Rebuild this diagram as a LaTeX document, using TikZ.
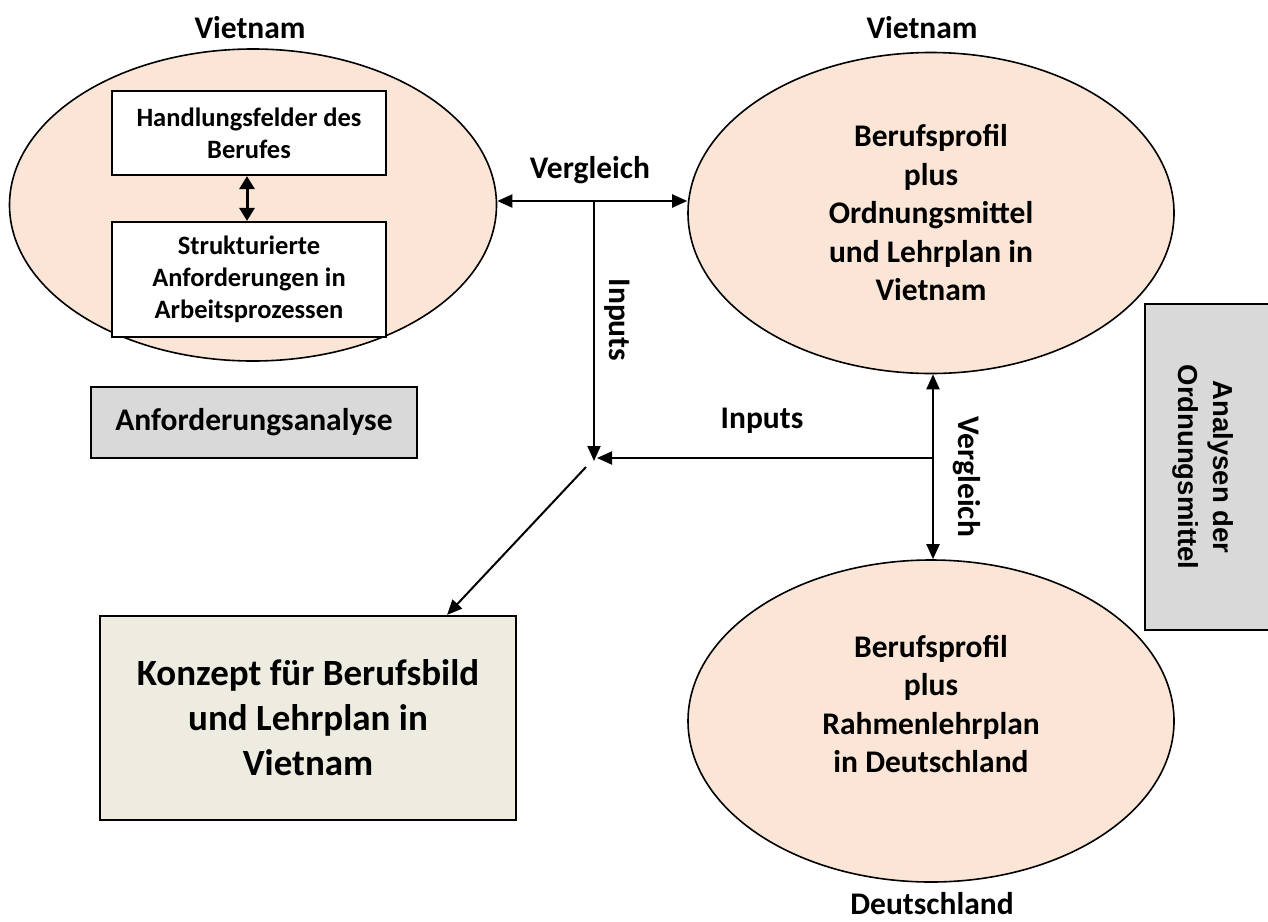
\documentclass[tikz,border=0pt]{standalone}
\usepackage{fontspec}
\setmainfont{Carlito}
\newfontfamily\arialfont{Liberation Sans}
\usetikzlibrary{arrows.meta,shapes.geometric}

\definecolor{peach}{HTML}{FBE5D6}
\definecolor{greyfill}{HTML}{D9D9D9}
\definecolor{tanfill}{HTML}{EEECE1}

\begin{document}
\begin{tikzpicture}[x=1pt,y=-1pt,
  oval/.style={ellipse, draw, line width=1.6pt, fill=peach, inner sep=0pt,
    minimum width=486pt, align=center,
    font=\fontsize{31.5}{38.5}\selectfont\bfseries},
  innerbox/.style={draw, line width=2.2pt, fill=white, inner sep=0pt,
    minimum width=274pt, align=center,
    font=\fontsize{26.5}{32}\selectfont\bfseries},
  greybox/.style={draw, line width=2.2pt, fill=greyfill, inner sep=0pt},
  conceptbox/.style={draw, line width=2.2pt, fill=tanfill, inner sep=0pt,
    minimum width=416pt, minimum height=204pt, align=center,
    font=\fontsize{37}{45}\selectfont\bfseries},
  caption/.style={inner sep=0pt, font=\fontsize{31.5}{38.5}\selectfont\bfseries},
  link/.style={line width=2pt, -{Triangle[length=15pt,width=13pt]}},
  twoway/.style={line width=2pt, {Triangle[length=15pt,width=13pt]}-{Triangle[length=15pt,width=13pt]}},
]
\useasboundingbox (0,0) rectangle (1268,921);

% country captions
\node[caption, anchor=base] (capL) at (250,38) {Vietnam};
\node[caption, anchor=base] (capR) at (922,38) {Vietnam};
\node[caption, anchor=base] (capD) at (932,914) {Deutschland};

% left oval with the two inner boxes
\node[oval, minimum width=487pt, minimum height=312pt] (req) at (253,205) {};
\node[innerbox, minimum height=84pt] (fields) at (249,133)
  {Handlungsfelder des\\Berufes};
\node[innerbox, minimum height=115pt] (struct) at (249,279.5)
  {Strukturierte\\Anforderungen in\\Arbeitsprozessen};
\draw[line width=3pt, {Triangle[length=13pt,width=15pt]}-{Triangle[length=13pt,width=15pt]}]
  ([xshift=-2pt]fields.south) -- ([xshift=-2pt]struct.north);

% right ovals
\node[oval, minimum height=321pt] (vn) at (931,213)
  {Berufsprofil\\plus\\Ordnungsmittel\\und Lehrplan in\\Vietnam};
\node[oval, minimum height=322pt] (de) at (931,721)
  {Berufsprofil\\plus\\Rahmenlehrplan\\in Deutschland\\[-4pt]\mbox{}};

% side boxes
\node[greybox, minimum width=326pt, minimum height=71pt,
  font=\fontsize{31.5}{38.5}\selectfont\bfseries] (ana) at (254,422.5)
  {Anforderungsanalyse};
\node[greybox, minimum width=124pt, minimum height=326pt] (ord) at (1207,467) {};
\node[rotate=-90, align=center, inner sep=0pt,
  font=\arialfont\fontsize{27.5}{35}\selectfont\bfseries] (ordtext) at (1203,467)
  {Analysen der\\Ordnungsmittel};

% result box
\node[conceptbox] (concept) at (308,718)
  {Konzept für Berufsbild\\und Lehrplan in\\Vietnam};

% connectors
\coordinate (split) at (594,201);
\coordinate (hub) at (594,458);
\coordinate (diag) at (586,467);

\draw[twoway] (req.east |- split) -- (vn.west |- split);
\node[caption, anchor=base] (lblV1) at (590,178) {Vergleich};

\draw[link] (split) -- ([yshift=-3pt]hub);
\node[caption, rotate=-90] (lblI1) at (617.5,320) {Inputs};

\draw[link] ([xshift=2pt]vn.south |- hub) -- ([xshift=3pt]hub);
\node[caption, anchor=base] (lblI2) at (762,428) {Inputs};

\draw[twoway] ([xshift=2pt]vn.south) -- ([xshift=2pt]de.north);
\node[caption, rotate=-90] (lblV2) at (967,477) {Vergleich};

\draw[link] (diag) -- ([xshift=-70pt]concept.north east);
\end{tikzpicture}
\end{document}
